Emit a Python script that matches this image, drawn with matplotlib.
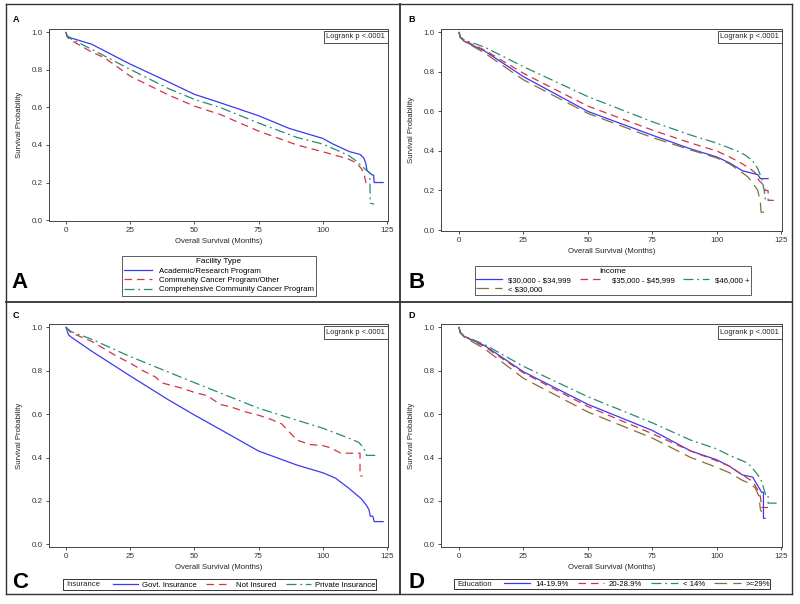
import matplotlib.pyplot as plt
from matplotlib.lines import Line2D
from matplotlib.patches import Rectangle

plt.rcParams['font.family'] = ['Liberation Sans', 'DejaVu Sans']

W, H = 800, 604

# ---- data ----
# Panel A: Facility type
acad_t = [0, 0.5, 2, 10, 25, 39, 50, 59, 75, 87, 100, 104, 110.5, 114.5, 116, 116.8, 117.2, 118, 119.3, 119.8, 120, 123.5]
acad_s = [1.0, 0.98, 0.97, 0.937, 0.831, 0.742, 0.67, 0.63, 0.556, 0.488, 0.435, 0.405, 0.364, 0.35, 0.33, 0.30, 0.266, 0.255, 0.24, 0.24, 0.20, 0.20]
comm_t = [0, 0.5, 2, 10, 15, 25, 40, 50, 60, 75, 90, 100, 110, 113, 115, 116, 117, 118]
comm_s = [1.0, 0.975, 0.958, 0.895, 0.865, 0.767, 0.666, 0.607, 0.563, 0.474, 0.40, 0.364, 0.325, 0.305, 0.275, 0.249, 0.187, 0.178]
comp_t = [0, 0.5, 2, 10, 25, 40, 50, 60, 75, 90, 100, 110, 113, 115, 117, 118.3, 118.5, 120]
comp_s = [1.0, 0.978, 0.965, 0.91, 0.803, 0.70, 0.643, 0.60, 0.517, 0.44, 0.405, 0.345, 0.315, 0.29, 0.265, 0.25, 0.09, 0.085]

# Panel B: Income
inc1_t = [0, 0.5, 2, 10, 25, 50, 75, 90, 100, 105, 110, 113, 116, 117, 120]
inc1_s = [1.0, 0.975, 0.955, 0.905, 0.776, 0.60, 0.48, 0.41, 0.37, 0.34, 0.30, 0.29, 0.28, 0.26, 0.26]
inc2_t = [0, 0.5, 2, 10, 25, 50, 75, 90, 100, 105, 110, 113, 115, 116.5, 118, 119, 120, 120, 123.5]
inc2_s = [1.0, 0.975, 0.958, 0.91, 0.793, 0.627, 0.506, 0.44, 0.40, 0.37, 0.335, 0.31, 0.29, 0.25, 0.23, 0.20, 0.20, 0.15, 0.15]
inc3_t = [0, 0.5, 2, 10, 25, 50, 75, 90, 100, 108, 111, 114, 116, 117.5, 118.5, 119, 121]
inc3_s = [1.0, 0.977, 0.962, 0.925, 0.826, 0.675, 0.548, 0.48, 0.44, 0.40, 0.38, 0.35, 0.31, 0.26, 0.20, 0.15, 0.15]
inc4_t = [0, 0.5, 2, 10, 25, 50, 75, 90, 100, 105, 110, 112, 114, 116, 117, 117.3, 118.5]
inc4_s = [1.0, 0.975, 0.955, 0.895, 0.76, 0.59, 0.468, 0.405, 0.365, 0.335, 0.29, 0.27, 0.24, 0.20, 0.14, 0.09, 0.09]

# Panel C: Insurance
govt_t = [0, 1, 2, 10, 25, 40, 50, 60, 75, 90, 100, 105, 110, 113, 115, 117, 118, 118.5, 119.5, 120, 123.5]
govt_s = [1.0, 0.965, 0.955, 0.89, 0.776, 0.665, 0.596, 0.53, 0.43, 0.365, 0.33, 0.305, 0.26, 0.23, 0.21, 0.18, 0.16, 0.13, 0.13, 0.105, 0.105]
noins_t = [0, 2, 10, 20, 25, 30, 35, 37, 45, 50, 55, 60, 65, 70, 75, 80, 84, 86, 90, 95, 100, 103, 107, 114.5, 114.5, 115.5]
noins_s = [1.0, 0.975, 0.935, 0.865, 0.835, 0.80, 0.77, 0.745, 0.72, 0.70, 0.685, 0.645, 0.63, 0.61, 0.595, 0.575, 0.555, 0.53, 0.48, 0.46, 0.455, 0.445, 0.42, 0.42, 0.315, 0.315]
priv_t = [0, 2, 10, 25, 50, 75, 100, 110, 114, 115.5, 116.5, 117, 121]
priv_s = [1.0, 0.98, 0.945, 0.865, 0.745, 0.627, 0.535, 0.49, 0.47, 0.45, 0.43, 0.41, 0.41]

# Panel D: Education
ed1_t = [0, 0.5, 2, 10, 25, 50, 75, 90, 100, 105, 110, 114, 115.5, 116.5, 117.5, 118.2, 118.2, 118.8]
ed1_s = [1.0, 0.975, 0.958, 0.915, 0.795, 0.645, 0.525, 0.43, 0.39, 0.36, 0.32, 0.31, 0.28, 0.26, 0.24, 0.24, 0.12, 0.12]
ed2_t = [0, 0.5, 2, 10, 25, 50, 75, 90, 100, 105, 110, 114, 116, 117, 117.5, 120]
ed2_s = [1.0, 0.975, 0.958, 0.91, 0.79, 0.635, 0.51, 0.43, 0.385, 0.36, 0.32, 0.29, 0.25, 0.22, 0.17, 0.17]
ed3_t = [0, 0.5, 2, 10, 25, 50, 75, 90, 100, 105, 110, 112, 114, 116, 117.5, 118.5, 119, 120, 120, 124]
ed3_s = [1.0, 0.977, 0.96, 0.92, 0.82, 0.68, 0.56, 0.48, 0.44, 0.41, 0.385, 0.375, 0.35, 0.32, 0.29, 0.25, 0.23, 0.23, 0.19, 0.19]
ed4_t = [0, 0.5, 2, 10, 25, 50, 75, 90, 100, 105, 110, 113, 115, 116.5, 117, 117.5]
ed4_s = [1.0, 0.973, 0.955, 0.90, 0.765, 0.61, 0.49, 0.40, 0.355, 0.33, 0.295, 0.28, 0.26, 0.22, 0.16, 0.15]

xticks = [0, 25, 50, 75, 100, 125]
yticks = [0.0, 0.2, 0.4, 0.6, 0.8, 1.0]

BLUE, RED, GREEN, BROWN = '#3a3af0', '#d0363f', '#2a8a72', '#8b6a3a'
STY = {
    'blue': dict(color=BLUE, ls='-'),
    'red': dict(color=RED, ls=(0, (6, 4))),
    'green': dict(color=GREEN, ls=(0, (8, 3, 1.5, 3))),
    'brown': dict(color=BROWN, ls=(0, (10, 5))),
}
FS = 5.6  # legend / label font size


def px_axes(left, top, right, bottom):
    return fig.add_axes([left / W, 1 - bottom / H, (right - left) / W, (bottom - top) / H])


def style_axes(ax, xlim, ylim):
    ax.set_xlim(*xlim)
    ax.set_ylim(*ylim)
    ax.set_xticks(xticks)
    ax.set_yticks(yticks)
    ax.set_yticklabels([f"{v:.1f}" for v in yticks])
    ax.tick_params(labelsize=5.8, length=2.5, width=0.6, colors='#333333', pad=2)
    for s in ax.spines.values():
        s.set_linewidth(0.7)
        s.set_color('#444444')
    ax.set_xlabel('Overall Survival (Months)', fontsize=FS, color='#222222', labelpad=3)
    ax.set_ylabel('Survival Probability', fontsize=FS, color='#222222', labelpad=6)
    ax.text(0.992, 0.978, 'Logrank p <.0001', transform=ax.transAxes, ha='right', va='top',
            fontsize=5.4, color='#222222',
            bbox=dict(boxstyle='square,pad=0.35', fc='white', ec='#333333', lw=0.6))


def curve(ax, t, s, key, label):
    return ax.plot(t, s, lw=0.9, label=label, **STY[key])[0]


fig = plt.figure(figsize=(8, 6.04), dpi=100)

# ---- Panel A ----
axA = px_axes(49, 29, 388, 221)
hA = [curve(axA, acad_t, acad_s, 'blue', 'Academic/Research Program'),
      curve(axA, comm_t, comm_s, 'red', 'Community Cancer Program/Other'),
      curve(axA, comp_t, comp_s, 'green', 'Comprehensive Community Cancer Program')]
style_axes(axA, (-6.6, 125.4), (-0.005, 1.018))
legA = fig.legend(handles=hA, loc='upper center', bbox_to_anchor=(219 / W, 1 - 256 / H),
                  title='Facility Type', fontsize=FS, title_fontsize=5.9, ncol=1,
                  frameon=True, fancybox=False, edgecolor='#333333', borderpad=0.3,
                  labelspacing=0.25, handlelength=3.6, handletextpad=0.9, borderaxespad=0)
legA.get_frame().set_linewidth(0.7)

# ---- Panel B ----
axB = px_axes(441, 29, 782, 231)
h1 = curve(axB, inc1_t, inc1_s, 'blue', r'\$30,000 - \$34,999')
h2 = curve(axB, inc2_t, inc2_s, 'red', r'\$35,000 - \$45,999')
h3 = curve(axB, inc3_t, inc3_s, 'green', r'\$46,000 +')
h4 = curve(axB, inc4_t, inc4_s, 'brown', r'< \$30,000')
style_axes(axB, (-7.0, 125.4), (-0.005, 1.017))
legB = fig.legend(handles=[h1, h4, h2, h3], loc='upper center', bbox_to_anchor=(613 / W, 1 - 266 / H),
                  title='Income', fontsize=FS, title_fontsize=5.9, ncol=3,
                  frameon=True, fancybox=False, edgecolor='#333333', borderpad=0.25,
                  labelspacing=0.2, handlelength=3.3, handletextpad=0.8, columnspacing=1.1,
                  borderaxespad=0)
legB.get_frame().set_linewidth(0.7)

# ---- Panel C ----
axC = px_axes(49, 324, 388, 547)
hC = [curve(axC, govt_t, govt_s, 'blue', 'Govt. Insurance'),
      curve(axC, noins_t, noins_s, 'red', 'Not Insured'),
      curve(axC, priv_t, priv_s, 'green', 'Private Insurance')]
style_axes(axC, (-6.6, 125.4), (-0.012, 1.015))
fig.add_artist(Rectangle((63 / W, 1 - 590 / H), (376 - 63) / W, 11 / H, transform=fig.transFigure,
                         fill=False, ec='#333333', lw=0.7))
fig.text(66 / W, 1 - 584.8 / H, 'Insurance', fontsize=FS, va='center', ha='left', color='#222222')
fig.legend(handles=hC, loc='center right', bbox_to_anchor=(378 / W, 1 - 584.8 / H), ncol=3,
           fontsize=FS, frameon=False, handlelength=3.2, handletextpad=0.6, columnspacing=1.2,
           borderpad=0.1, borderaxespad=0.2)

# ---- Panel D ----
axD = px_axes(441, 324, 782, 547)
hD = [curve(axD, ed1_t, ed1_s, 'blue', '14-19.9%'),
      curve(axD, ed2_t, ed2_s, 'red', '20-28.9%'),
      curve(axD, ed3_t, ed3_s, 'green', '< 14%'),
      curve(axD, ed4_t, ed4_s, 'brown', '>=29%')]
style_axes(axD, (-7.0, 125.4), (-0.012, 1.015))
fig.add_artist(Rectangle((454 / W, 1 - 589 / H), (770 - 454) / W, 10 / H, transform=fig.transFigure,
                         fill=False, ec='#333333', lw=0.7))
fig.text(457 / W, 1 - 584.3 / H, 'Education', fontsize=FS, va='center', ha='left', color='#222222')
fig.legend(handles=hD, loc='center right', bbox_to_anchor=(772 / W, 1 - 584.3 / H), ncol=4,
           fontsize=FS, frameon=False, handlelength=3.4, handletextpad=0.6, columnspacing=1.2,
           borderpad=0.1, borderaxespad=0.2)

# ---- panel letters ----
for x, y, s in [(16, 19, 'A'), (412, 19, 'B'), (16, 315, 'C'), (412, 315, 'D')]:
    fig.text(x / W, 1 - y / H, s, fontsize=6.5, fontweight='bold', ha='center', va='center')
for x, y, s in [(20, 283, 'A'), (417, 282, 'B'), (20, 583, 'C'), (417, 583, 'D')]:
    fig.text(x / W, 1 - y / H, s, fontsize=16, fontweight='bold', ha='center', va='center')

# ---- frame and dividers ----
def fig_line(x0, y0, x1, y1, lw=1.0):
    fig.add_artist(Line2D([x0 / W, x1 / W], [1 - y0 / H, 1 - y1 / H], transform=fig.transFigure,
                          color='#333333', lw=lw))

fig_line(6, 4, 792, 4)
fig_line(6, 594, 792, 594)
fig_line(6, 4, 6, 594)
fig_line(792, 4, 792, 594)
fig_line(400, 4, 400, 594, lw=1.3)
fig_line(6, 302, 792, 302, lw=1.3)

fig.savefig('out.png', dpi=100)
